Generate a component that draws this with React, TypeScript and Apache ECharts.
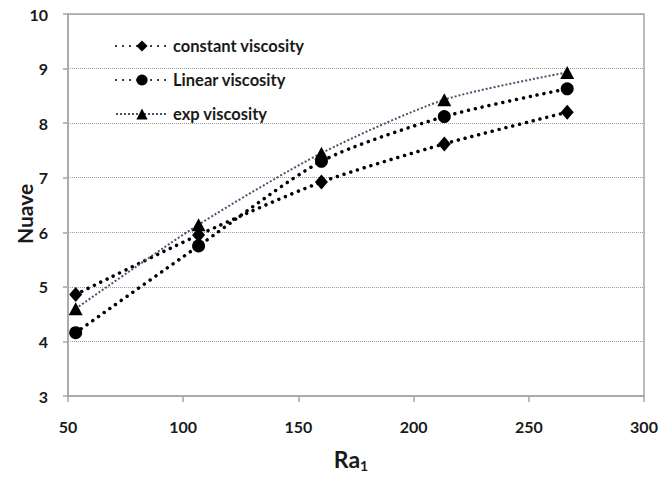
import React, { useEffect, useRef } from "react";
import * as echarts from "echarts";

const raValues = [53.33, 106.67, 160, 213.33, 266.67];
const constantVisc = [4.86, 5.95, 6.92, 7.62, 8.2];
const linearVisc = [4.16, 5.75, 7.3, 8.12, 8.63];
const expVisc = [4.6, 6.14, 7.45, 8.43, 8.93];
const seriesNames = ["constant viscosity", "Linear viscosity", "exp viscosity"];

const font = "Lato, 'Open Sans', sans-serif";

export default function App() {
  const ref = useRef<HTMLDivElement>(null);
  useEffect(() => {
    if (!ref.current) return;
    const chart = echarts.init(ref.current, null, { renderer: "svg" });
    const pts = (ys: number[]) => raValues.map((x, i) => [x, ys[i]]);
    const dotBlack = {
      color: "#000",
      width: 3.5,
      type: [0.01, 7] as any,
      cap: "round" as const,
    };
    chart.setOption({
      animation: false,
      backgroundColor: "#fff",
      grid: {
        left: 68,
        right: 15,
        top: 14,
        bottom: 81,
        containLabel: false,
        outerBoundsMode: "none",
        show: true,
        borderColor: "#a6a6a6",
        borderWidth: 1.5,
      },
      legend: {
        orient: "vertical",
        left: 110,
        top: 32,
        itemGap: 16,
        itemWidth: 52,
        itemHeight: 14,
        data: seriesNames,
        textStyle: {
          fontFamily: font,
          fontWeight: "bold",
          fontSize: 16.5,
          lineHeight: 18,
          color: "#1a1a1a",
        },
      },
      xAxis: {
        type: "value",
        min: 50,
        max: 300,
        interval: 50,
        name: "{a|Ra}{b|1}",
        nameLocation: "middle",
        nameGap: 50,
        nameMoveOverlap: false,
        nameTextStyle: {
          padding: [0, 10, 0, 0],
          rich: {
            a: { fontFamily: font, fontWeight: "bold", fontSize: 23, color: "#1a1a1a" },
            b: { fontFamily: font, fontWeight: "bold", fontSize: 14, color: "#1a1a1a", verticalAlign: "bottom", padding: [12, 0, 0, 0] },
          },
        },
        axisLine: { lineStyle: { color: "#a6a6a6", width: 1.5 } },
        axisTick: { show: true, inside: false, length: 6, lineStyle: { color: "#a6a6a6", width: 1.5 } },
        axisLabel: { fontFamily: font, fontWeight: "bold", fontSize: 16, color: "#1a1a1a", margin: 22 },
        splitLine: { show: false },
      },
      yAxis: {
        type: "value",
        min: 3,
        max: 10,
        interval: 1,
        name: "Nuave",
        nameLocation: "middle",
        nameGap: 33,
        nameMoveOverlap: false,
        nameTextStyle: { fontFamily: font, fontWeight: "bold", fontSize: 21, color: "#1a1a1a", padding: [0, 18, 0, 0] },
        axisLine: { show: true, lineStyle: { color: "#a6a6a6", width: 1.5 } },
        axisTick: { show: true, inside: false, length: 5, lineStyle: { color: "#a6a6a6", width: 1.5 } },
        axisLabel: { fontFamily: font, fontWeight: "bold", fontSize: 16, color: "#1a1a1a", margin: 20 },
        splitLine: { show: true, lineStyle: { color: "#9a9a9a", width: 1, type: [1, 1] } },
      },
      series: [
        {
          name: seriesNames[0],
          type: "line",
          data: pts(constantVisc),
          smooth: 0.25,
          symbol: "diamond",
          symbolSize: [13, 15],
          itemStyle: { color: "#000" },
          lineStyle: dotBlack,
        },
        {
          name: seriesNames[1],
          type: "line",
          data: pts(linearVisc),
          smooth: 0.25,
          symbol: "circle",
          symbolSize: 13,
          itemStyle: { color: "#000" },
          lineStyle: dotBlack,
        },
        {
          name: seriesNames[2],
          type: "line",
          data: pts(expVisc),
          smooth: 0.25,
          symbol: "triangle",
          symbolSize: [14, 13],
          itemStyle: { color: "#000" },
          lineStyle: { color: "#44546a", width: 2, type: [2, 2] },
        },
      ],
    });
    return () => chart.dispose();
  }, []);
  return (
    <div
      ref={ref}
      style={{ position: "fixed", left: 0, top: 0, width: 659, height: 477, background: "#fff" }}
    />
  );
}
